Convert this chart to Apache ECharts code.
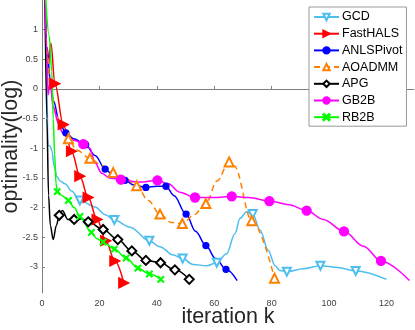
<!DOCTYPE html>
<html>
<head>
<meta charset="utf-8">
<script src="https://cdn.jsdelivr.net/npm/echarts@6/dist/echarts.min.js"></script>
<style>
  html, body { margin: 0; padding: 0; background: #fff; }
  #chart { width: 415px; height: 330px; }
</style>
</head>
<body>
<div id="chart"></div>
<script>
// tick labels
const xTicks = [0, 20, 40, 60, 80, 100, 120];
const yTicks = [-3, -2.5, -2, -1.5, -1, -0.5, 0, 0.5, 1];

// each point: [iteration, log optimality, marker?]
const gcd = [[1,1.7,0],[1.6,0.2,0],[2.1,-0.95,0],[2.8,-0.96,0],[3.5,-1.05,0],[4.2,-1.3,0],[5.2,-1.48,0],[6.3,-1.55,0],[8,-1.6,0],[10.3,-1.72,0],
  [13.2,-1.88,1],[18.5,-1.99,0],[22,-2.12,0],[25.2,-2.21,1],[30.7,-2.33,0],[37.4,-2.56,1],[41,-2.66,0],[45.8,-2.8,0],[49,-2.86,1],
  [52.7,-2.96,0],[57.4,-2.98,0],[60.9,-2.93,1],[64.3,-2.78,0],[67.2,-2.44,0],[69,-2.18,0],[71.3,-2.07,0],[73.4,-2.11,1],[76,-2.38,0],
  [78.8,-2.72,0],[81.2,-2.98,0],[82.9,-3.06,0],[85.3,-3.08,1],[91,-3.03,0],[97,-2.98,1],[103,-3.01,0],[109.3,-3.07,1],[120,-3.21,0]];
const fastHals = [[1,1.6,0],[2,0.35,0],[3.1,0.77,0],[4.5,0.09,1],[7.4,-0.6,1],[10.3,-1.05,1],[13.2,-1.47,1],[16.1,-1.83,1],
  [19.2,-2.2,1],[22.2,-2.56,1],[25.4,-2.9,1],[28.5,-3.27,1]];
const anlsPivot = [[1,1.7,0],[1.8,0.7,0],[2.8,0.18,0],[4,-0.2,0],[6,-0.55,0],[8.3,-0.74,1],[11,-0.84,0],[15.2,-0.94,1],[18.5,-1.12,0],
  [22,-1.35,1],[25,-1.47,0],[28.9,-1.54,1],[32,-1.62,0],[36.2,-1.66,1],[40,-1.64,0],[43.2,-1.64,1],[46,-1.8,0],[50.2,-2.11,1],
  [53.5,-2.4,0],[57.1,-2.64,1],[60.5,-2.86,0],[64.1,-3.04,1],[68,-3.23,0]];
const aoadmm = [[1,1.7,0],[1.8,0.6,0],[3,0,0],[5,-0.45,0],[7,-0.72,0],[9.2,-0.84,1],[12.1,-1.03,0],[16.7,-1.17,1],[20.8,-1.29,0],
  [24.8,-1.41,1],[29,-1.5,0],[33,-1.63,1],[37,-1.88,0],[41.1,-2.11,1],[45,-2.25,0],[48.9,-2.27,1],[53,-2.12,0],[57.1,-1.93,1],
  [61,-1.55,0],[65.2,-1.23,1],[67,-1.3,0],[73.1,-2.22,1],[81,-3.19,1]];
const apg = [[1,1.7,0],[1.7,-0.5,0],[2.3,-1.8,0],[2.9,-2.3,0],[3.9,-2.54,0],[5,-2.3,0],[6,-2.13,1],[7.1,-2.05,0],[9,-2.2,0],
  [11.2,-2.2,1],[13.8,-2.19,0],[16.1,-2.24,1],[21.3,-2.37,1],[26.4,-2.54,1],[31.3,-2.73,1],[36.2,-2.89,1],[41.3,-2.93,1],
  [46.3,-3.05,1],[51.3,-3.21,1]];
const gb2b = [[1,1.7,0],[1.8,0.5,0],[2.1,-0.1,0],[2.8,0.1,0],[3.9,-0.3,0],[5.7,-0.58,0],[7.4,-0.75,0],[9.2,-0.82,0],[11.5,-0.87,0],
  [14.4,-0.93,1],[16.7,-1.0,0],[18.5,-1.25,0],[20.8,-1.42,0],[23.5,-1.5,0],[27.5,-1.53,1],[34,-1.57,0],[40.2,-1.54,1],[44,-1.6,0],
  [48,-1.74,0],[53.3,-1.83,1],[60,-1.83,0],[66.1,-1.81,1],[72,-1.83,0],[79.2,-1.89,1],[86,-1.95,0],[92.2,-2.05,1],[98,-2.2,0],
  [105.2,-2.4,1],[112,-2.65,0],[118.1,-2.9,1],[128,-3.23,0]];
const rb2b = [[1.2,1.6,0],[2.5,0.9,0],[3.4,0.3,0],[3.9,-0.5,0],[4.4,-1.1,0],[4.9,-1.6,0],[5.3,-1.73,1],[7,-1.8,0],[9.2,-1.88,1],
  [11.2,-2.0,0],[13.2,-2.15,1],[17.2,-2.42,1],[19,-2.52,0],[21.3,-2.58,1],[25.2,-2.7,1],[29.3,-2.85,1],[33.4,-3.02,1],
  [37.4,-3.12,1],[41.4,-3.21,1]];

const xMark = 'path://M0,1L1,0L5,4L9,0L10,1L6,5L10,9L9,10L5,6L1,10L0,9L4,5Z';

// only some points carry a marker, like matlab's MarkerIndices
function pts(list) {
  return list.map(p => p[2] ? { value: [p[0], p[1]] } : { value: [p[0], p[1]], symbol: 'none' });
}

function mk(name, list, color, symbol, size, rotate, dashed) {
  return {
    name: name,
    type: 'line',
    data: pts(list),
    smooth: 0.35,
    smoothMonotone: 'x',
    symbol: symbol,
    symbolSize: size,
    symbolRotate: rotate,
    showSymbol: true,
    clip: true,
    lineStyle: { color: color, width: 1.5, type: dashed ? [6, 4] : 'solid' },
    itemStyle: { color: color, borderColor: color, borderWidth: 1.3 },
    emphasis: { disabled: true }
  };
}

const chart = echarts.init(document.getElementById('chart'), null, { renderer: 'canvas' });

chart.setOption({
  animation: false,
  backgroundColor: '#fff',
  grid: { left: 42, right: 1, top: 0, bottom: 37, outerBoundsMode: 'none', containLabel: false },
  legend: {
    orient: 'vertical',
    left: 309,
    top: 7,
    padding: [3, 4, 2, 4],
    itemWidth: 25,
    itemHeight: 8,
    itemGap: 2.7,
    backgroundColor: '#fff',
    borderColor: '#999',
    borderWidth: 1,
    borderRadius: 0,
    textStyle: { fontFamily: 'Liberation Sans', fontSize: 12.5, lineHeight: 14, color: '#000', padding: [0, 0, 0, -2] },
    data: ['GCD', 'FastHALS', 'ANLSPivot', 'AOADMM', 'APG', 'GB2B', 'RB2B']
  },
  xAxis: {
    type: 'value',
    min: 0,
    max: 129.6,
    name: 'iteration k',
    nameLocation: 'middle',
    nameGap: 13,
    nameMoveOverlap: false,
    nameTextStyle: { fontFamily: 'Liberation Sans', fontSize: 21.5, color: '#262626', verticalAlign: 'top' },
    axisLine: { lineStyle: { color: '#808080', width: 1 } },
    axisTick: { inside: true, length: 3, lineStyle: { color: '#808080' }, customValues: xTicks },
    axisLabel: { customValues: xTicks, margin: 6, fontFamily: 'Liberation Sans', fontSize: 9, color: '#404040' },
    splitLine: { show: false }
  },
  yAxis: {
    type: 'value',
    min: -3.44,
    max: 1.5,
    name: 'optimality(log)',
    nameLocation: 'middle',
    nameGap: 20,
    nameMoveOverlap: false,
    nameTextStyle: { fontFamily: 'Liberation Sans', fontSize: 21.5, color: '#262626' },
    axisLine: { show: true, lineStyle: { color: '#808080', width: 1 } },
    axisTick: { show: true, inside: true, length: 3, lineStyle: { color: '#808080' }, customValues: yTicks },
    axisLabel: { customValues: yTicks, margin: 4, fontFamily: 'Liberation Sans', fontSize: 9, color: '#404040' },
    splitLine: { show: false }
  },
  series: [
    mk('GCD', gcd, '#4DBEEE', 'emptyTriangle', 8, 180, false),
    mk('FastHALS', fastHals, '#FF0000', 'triangle', 10, -90, false),
    mk('ANLSPivot', anlsPivot, '#0000FF', 'circle', 6, 0, false),
    mk('AOADMM', aoadmm, '#FF8000', 'emptyTriangle', 9, 0, true),
    mk('APG', apg, '#000000', 'emptyDiamond', 9, 0, false),
    mk('GB2B', gb2b, '#FF00FF', 'circle', 9, 0, false),
    mk('RB2B', rb2b, '#00FF00', xMark, 6, 0, false)
  ]
});
</script>
</body>
</html>
